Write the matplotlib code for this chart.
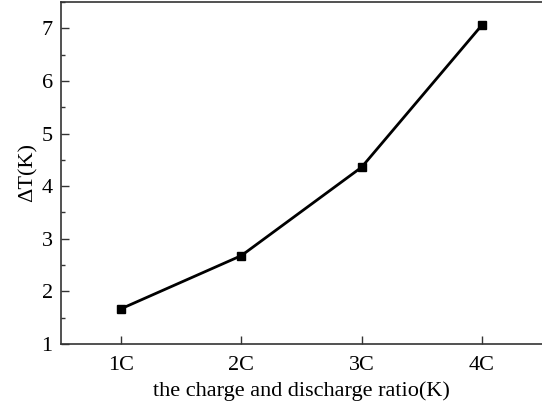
import numpy as np
import matplotlib.pyplot as plt
from matplotlib.ticker import MultipleLocator

plt.rcParams['font.family'] = ['Liberation Serif', 'DejaVu Serif']

# data
rates = ['1C', '2C', '3C', '4C']
delta_t = [1.67, 2.68, 4.36, 7.06]

fig = plt.figure(figsize=(5.42, 4.05), dpi=100)
ax = fig.add_axes([61/542, 1 - 344/405, 1 - 61/542, 342/405])

x = np.arange(1, len(rates) + 1)
ax.plot(x, delta_t, color='black', lw=2, marker='s', ms=6)

ax.set_xlim(0.5, 4.5)
ax.set_ylim(1, 7.5)
ax.set_xticks(x)
ax.set_xticklabels(rates)
ax.yaxis.set_major_locator(MultipleLocator(1))
ax.yaxis.set_minor_locator(MultipleLocator(0.5))
ax.tick_params(direction='in', labelsize=16, length=6, width=1, colors='#333333', labelcolor='black')
ax.tick_params(axis='x', pad=9)
ax.tick_params(axis='y', pad=6)
ax.tick_params(which='minor', direction='in', length=3, width=1, colors='#333333')
ax.spines['right'].set_visible(False)
for s in ['left', 'bottom', 'top']:
    ax.spines[s].set_color('#333333')
    ax.spines[s].set_linewidth(1.2)

ax.set_xlabel('the charge and discharge ratio(K)', fontsize=16, labelpad=4)
ax.set_ylabel('ΔT(K)', fontsize=16, labelpad=3)

fig.savefig('out.png', dpi=100)
